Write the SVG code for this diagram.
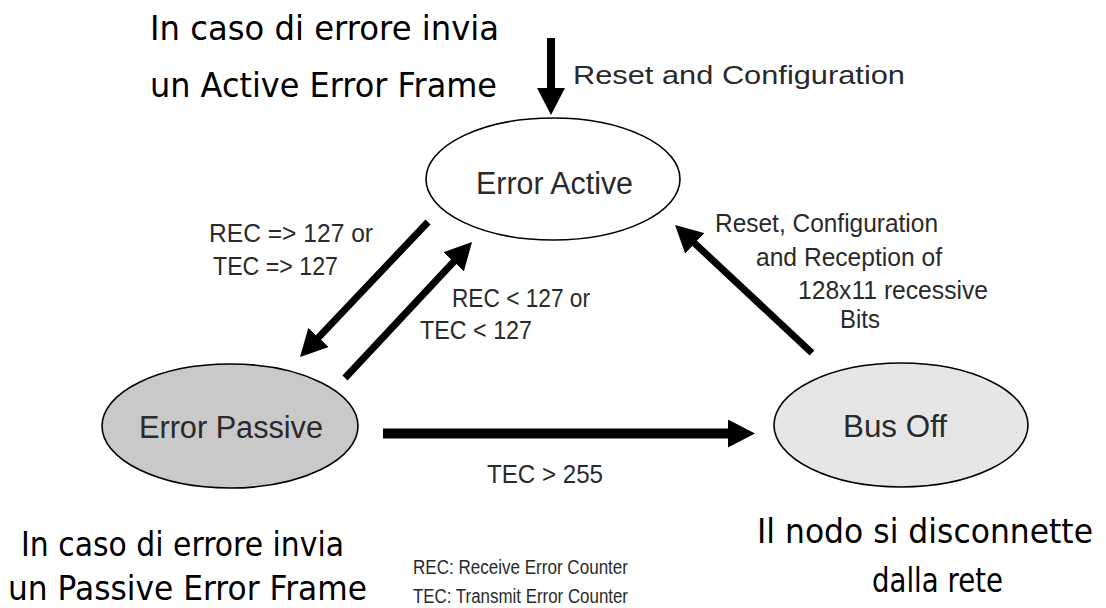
<svg xmlns="http://www.w3.org/2000/svg" width="1106" height="608" viewBox="0 0 1106 608">
  <style>
    .state { stroke: #000; stroke-width: 1.6; }
    .state-label { font-family: "Liberation Sans", Arial, sans-serif; font-size: 31px; fill: #2a2a2a; }
    .edge { stroke: #000; fill: none; stroke-linecap: butt; }
    .edge-label { font-family: "Liberation Sans", Arial, sans-serif; font-size: 26px; fill: #2a2a2a; }
    .note { font-family: "DejaVu Sans", Verdana, sans-serif; font-size: 34px; fill: #000; }
    .legend { font-family: "Liberation Sans", Arial, sans-serif; font-size: 20px; fill: #2a2a2a; }
  </style>
  <defs>
    <marker id="head" markerUnits="userSpaceOnUse" markerWidth="28" markerHeight="28" refX="12" refY="14" orient="auto" viewBox="0 0 28 28">
      <path d="M0,0 L27,14 L0,28 Z" fill="#000"/>
    </marker>
  </defs>

  <rect width="1106" height="608" fill="#fff"/>

  <!-- transitions -->
  <g id="connectors">
    <!-- power-up / reset entry -->
    <line class="edge" x1="551" y1="38" x2="551" y2="100" stroke-width="8" marker-end="url(#head)"/>
    <!-- Error Active -> Error Passive -->
    <line class="edge" x1="428" y1="222" x2="310.3" y2="346.1" stroke-width="7" marker-end="url(#head)"/>
    <!-- Error Passive -> Error Active -->
    <line class="edge" x1="345" y1="378" x2="461.8" y2="253" stroke-width="7" marker-end="url(#head)"/>
    <!-- Bus Off -> Error Active -->
    <line class="edge" x1="812" y1="353" x2="686" y2="235.2" stroke-width="7" marker-end="url(#head)"/>
    <!-- Error Passive -> Bus Off -->
    <line class="edge" x1="383" y1="433.5" x2="740" y2="433.5" stroke-width="10" marker-end="url(#head)"/>

    <text class="edge-label" x="573" y="84" font-size="29" textLength="332" lengthAdjust="spacingAndGlyphs">Reset and Configuration</text>
    <text class="edge-label" x="209" y="242" textLength="164" lengthAdjust="spacingAndGlyphs">REC =&gt; 127 or</text>
    <text class="edge-label" x="213" y="275" textLength="125" lengthAdjust="spacingAndGlyphs">TEC =&gt; 127</text>
    <text class="edge-label" x="452" y="307" textLength="138" lengthAdjust="spacingAndGlyphs">REC &lt; 127 or</text>
    <text class="edge-label" x="420" y="339" textLength="112" lengthAdjust="spacingAndGlyphs">TEC &lt; 127</text>
    <text class="edge-label" x="715" y="232" font-size="24.5" textLength="223" lengthAdjust="spacingAndGlyphs">Reset, Configuration</text>
    <text class="edge-label" x="756" y="266" font-size="24.5" textLength="186" lengthAdjust="spacingAndGlyphs">and Reception of</text>
    <text class="edge-label" x="798" y="299" font-size="24.5" textLength="190" lengthAdjust="spacingAndGlyphs">128x11 recessive</text>
    <text class="edge-label" x="840" y="328" font-size="24.5" textLength="40" lengthAdjust="spacingAndGlyphs">Bits</text>
    <text class="edge-label" x="487" y="483" font-size="25" textLength="116" lengthAdjust="spacingAndGlyphs">TEC &gt; 255</text>
  </g>

  <g id="error-active">
    <ellipse class="state" cx="553" cy="179" rx="127" ry="61" fill="#fff"/>
    <text class="state-label" x="476" y="194" textLength="157" lengthAdjust="spacingAndGlyphs">Error Active</text>
  </g>

  <g id="error-passive">
    <ellipse class="state" cx="230" cy="426" rx="128" ry="62" fill="#c9c9c9"/>
    <text class="state-label" x="139" y="438" textLength="184" lengthAdjust="spacingAndGlyphs">Error Passive</text>
  </g>

  <g id="bus-off">
    <ellipse class="state" cx="901" cy="425" rx="127" ry="62" fill="#e6e6e6"/>
    <text class="state-label" x="843" y="437" textLength="104" lengthAdjust="spacingAndGlyphs">Bus Off</text>
  </g>

  <!-- notes -->
  <g id="note-active">
    <text class="note" x="150" y="40" textLength="349" lengthAdjust="spacingAndGlyphs">In caso di errore invia</text>
    <text class="note" x="150" y="97" textLength="347" lengthAdjust="spacingAndGlyphs">un Active Error Frame</text>
  </g>
  <g id="note-passive">
    <text class="note" x="21" y="556" font-size="33" textLength="323" lengthAdjust="spacingAndGlyphs">In caso di errore invia</text>
    <text class="note" x="8" y="600" font-size="33" textLength="359" lengthAdjust="spacingAndGlyphs">un Passive Error Frame</text>
  </g>
  <g id="note-busoff">
    <text class="note" x="757" y="543" font-size="31.5" textLength="336" lengthAdjust="spacingAndGlyphs">Il nodo si disconnette</text>
    <text class="note" x="872" y="592" font-size="33" textLength="131" lengthAdjust="spacingAndGlyphs">dalla rete</text>
  </g>
  <g id="legend">
    <text class="legend" x="413" y="574" textLength="215" lengthAdjust="spacingAndGlyphs">REC: Receive Error Counter</text>
    <text class="legend" x="413" y="603" textLength="215" lengthAdjust="spacingAndGlyphs">TEC: Transmit Error Counter</text>
  </g>
</svg>
